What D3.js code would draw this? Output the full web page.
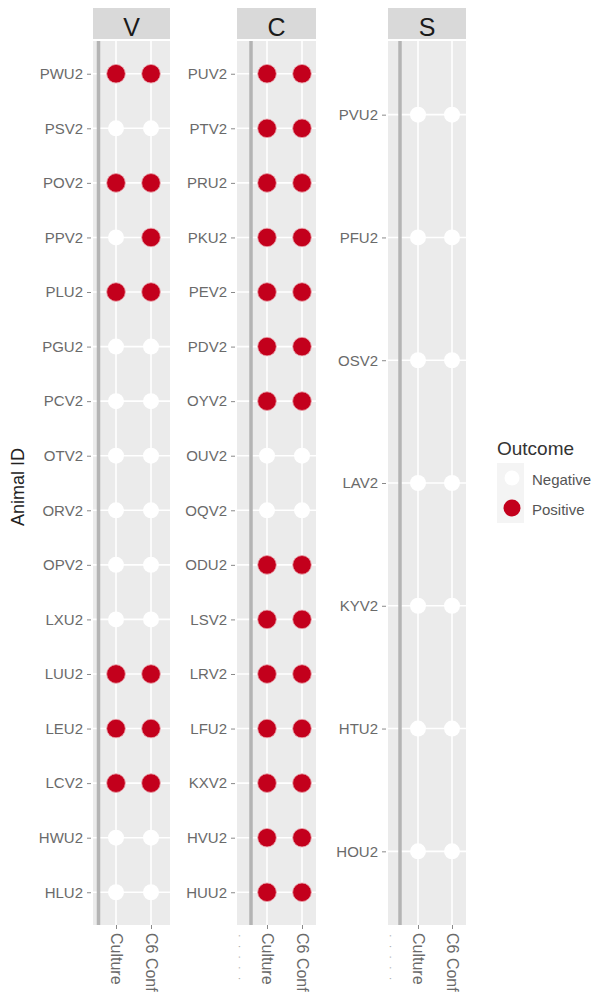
<!DOCTYPE html>
<html><head><meta charset="utf-8">
<script src="https://cdn.jsdelivr.net/npm/d3@7"></script>
<style>
html,body{margin:0;padding:0;background:#fff;}
svg{display:block;font-family:"Liberation Sans",Arial,sans-serif;}
</style></head>
<body>
<script>
// ---- data ----
const facets = ["V", "C", "S"];
const tests = ["Culture", "C6 Conf"];
const idsV = ["PWU2","PSV2","POV2","PPV2","PLU2","PGU2","PCV2","OTV2","ORV2","OPV2","LXU2","LUU2","LEU2","LCV2","HWU2","HLU2"];
const cultureV = ["P","N","P","N","P","N","N","N","N","N","N","P","P","P","N","N"];
const c6V      = ["P","N","P","P","P","N","N","N","N","N","N","P","P","P","N","N"];
const idsC = ["PUV2","PTV2","PRU2","PKU2","PEV2","PDV2","OYV2","OUV2","OQV2","ODU2","LSV2","LRV2","LFU2","KXV2","HVU2","HUU2"];
const cultureC = ["P","P","P","P","P","P","P","N","N","P","P","P","P","P","P","P"];
const c6C      = ["P","P","P","P","P","P","P","N","N","P","P","P","P","P","P","P"];
const idsS = ["PVU2","PFU2","OSV2","LAV2","KYV2","HTU2","HOU2"];
const cultureS = ["N","N","N","N","N","N","N"];
const c6S      = ["N","N","N","N","N","N","N"];
const outcomes = ["Negative","Positive"];
const outcomeCodes = ["N","P"];

// ---- layout ----
const W = 597, H = 995;
const panelTop = 41, panelBottom = 925, stripTop = 8;
const layout = {
  V: {left: 93, right: 170, line: 98.5, x0: 116, x1: 151},
  C: {left: 237, right: 316, line: 251, x0: 267, x1: 302},
  S: {left: 388, right: 466, line: 400, x0: 418, x1: 452}
};
const facetData = {
  V: {ids: idsV, vals: [cultureV, c6V]},
  C: {ids: idsC, vals: [cultureC, c6C]},
  S: {ids: idsS, vals: [cultureS, c6S]}
};
const colorScale = d3.scaleOrdinal().domain(outcomeCodes).range(["#ffffff", "#c3001c"]);
const FONT = "'Liberation Sans',Arial,sans-serif";

const svg = d3.select("body").append("svg").attr("width", W).attr("height", H);

facets.forEach(f => {
  const L = layout[f];
  const D = facetData[f];
  const g = svg.append("g");
  // strip
  g.append("rect").attr("x", L.left).attr("y", stripTop).attr("width", L.right - L.left)
    .attr("height", panelTop - stripTop - 2).attr("fill", "#d9d9d9");
  g.append("text").attr("x", (L.left + L.right) / 2).attr("y", stripTop + 28)
    .attr("text-anchor", "middle").attr("font-size", 25).attr("fill", "#1a1a1a").text(f);
  // panel
  g.append("rect").attr("x", L.left).attr("y", panelTop).attr("width", L.right - L.left)
    .attr("height", panelBottom - panelTop).attr("fill", "#ebebeb");
  const x = d3.scalePoint().domain(tests).range([L.x0, L.x1]);
  const y = d3.scalePoint().domain(D.ids).range([panelTop, panelBottom]).padding(0.6);
  // grid
  g.selectAll(".gy").data(D.ids).enter().append("line")
    .attr("x1", L.left).attr("x2", L.right).attr("y1", d => y(d)).attr("y2", d => y(d))
    .attr("stroke", "#ffffff").attr("stroke-width", 1.6);
  g.selectAll(".gx").data(tests).enter().append("line")
    .attr("x1", d => x(d)).attr("x2", d => x(d)).attr("y1", panelTop).attr("y2", panelBottom)
    .attr("stroke", "#ffffff").attr("stroke-width", 1.6);
  // darker vertical line
  g.append("line").attr("x1", L.line).attr("x2", L.line).attr("y1", panelTop).attr("y2", panelBottom)
    .attr("stroke", "#b4b4b4").attr("stroke-width", 3.5);
  // y axis
  const yAxis = d3.axisLeft(y).tickSize(4).tickPadding(4);
  const ya = g.append("g").attr("transform", `translate(${L.left - 2},0)`).call(yAxis);
  ya.select(".domain").remove();
  ya.selectAll("line").attr("stroke", "#8a8a8a");
  ya.selectAll("text").attr("font-size", 15).attr("fill", "#6a6a6a").attr("font-family", FONT);
  // x axis
  const xAxis = d3.axisBottom(x).tickSize(4).tickPadding(4);
  const xa = g.append("g").attr("transform", `translate(0,${panelBottom})`).call(xAxis);
  xa.select(".domain").remove();
  xa.selectAll("line").attr("stroke", "#8a8a8a");
  xa.selectAll("text").attr("font-size", 16).attr("fill", "#6a6a6a").attr("font-family", FONT)
    .attr("text-anchor", "start").attr("dy", "0.35em")
    .attr("transform", "rotate(90)").attr("x", 8).attr("y", 0);
  if (f !== "V") {
    g.append("text").attr("transform", `translate(${L.left + 3},${panelBottom + 9}) rotate(90)`)
      .attr("font-size", 11).attr("fill", "#aaaaaa").attr("dy", "0.35em")
      .attr("letter-spacing", 7).text("·····");
  }
  // points
  const pts = [];
  D.ids.forEach((id, i) => tests.forEach((t, j) => pts.push({id, t, v: D.vals[j][i]})));
  g.selectAll(".pt").data(pts).enter().append("circle")
    .attr("cx", d => x(d.t)).attr("cy", d => y(d.id))
    .attr("r", d => d.v === "P" ? 9.3 : 8)
    .attr("fill", d => colorScale(d.v))
    .attr("stroke", d => d.v === "P" ? "#e9a0a8" : "none").attr("stroke-width", 0.8);
});

// y title
svg.append("text").attr("transform", "translate(24,487) rotate(-90)")
  .attr("text-anchor", "middle").attr("font-size", 18).attr("fill", "#222").text("Animal ID");

// legend
const lg = svg.append("g").attr("transform", "translate(497,0)");
lg.append("text").attr("x", 0).attr("y", 455).attr("font-size", 19).attr("fill", "#333").text("Outcome");
outcomes.forEach((o, i) => {
  const cy = 478 + i * 30;
  lg.append("rect").attr("x", 0).attr("y", cy - 15).attr("width", 27).attr("height", 30).attr("fill", "#f4f4f4");
  lg.append("circle").attr("cx", 15).attr("cy", cy).attr("r", outcomeCodes[i] === "P" ? 8.5 : 7.5)
    .attr("fill", colorScale(outcomeCodes[i]));
  lg.append("text").attr("x", 35).attr("y", cy + 2).attr("dy", "0.35em").attr("font-size", 15)
    .attr("fill", "#555").text(o);
});
</script>
</body></html>
